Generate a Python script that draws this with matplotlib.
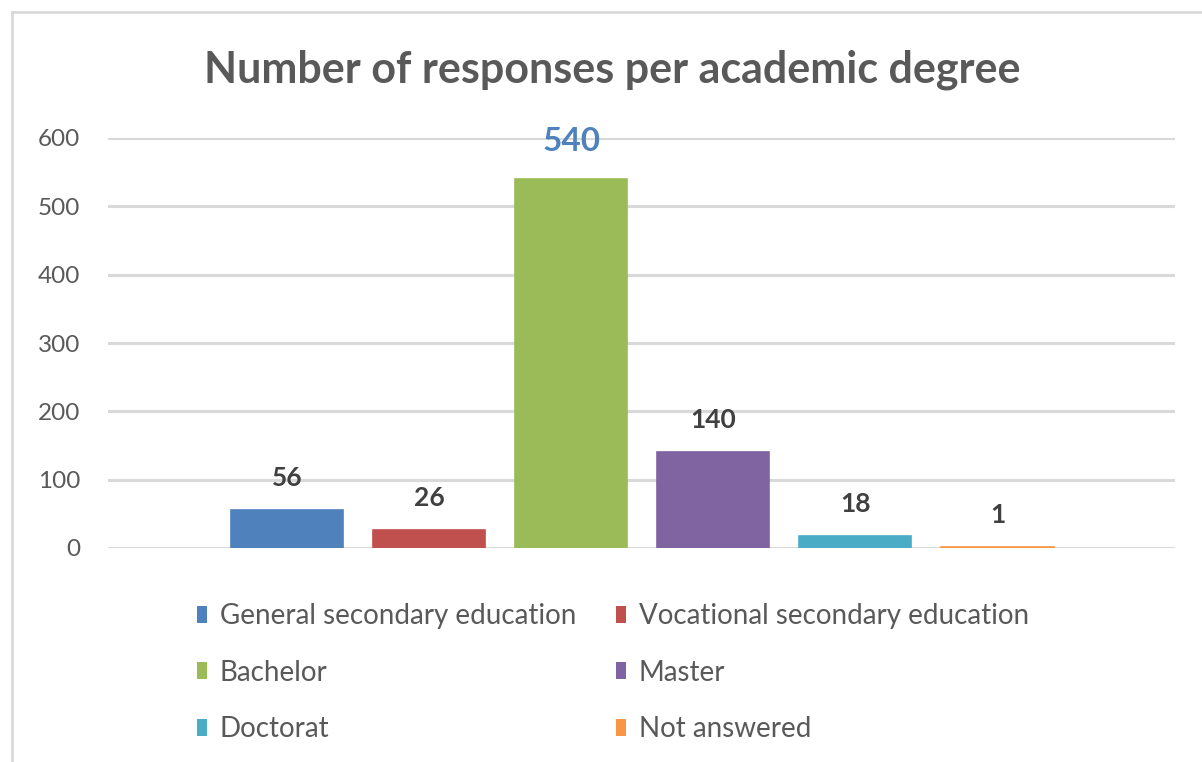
import matplotlib.pyplot as plt
from matplotlib.patches import Patch
from matplotlib.lines import Line2D

# data
degrees = ['General secondary education', 'Vocational secondary education',
           'Bachelor', 'Master', 'Doctorat', 'Not answered']
responses = [56, 26, 540, 140, 18, 1]
colors = ['#4F81BD', '#C0504D', '#9BBB59', '#8064A2', '#4BACC6', '#F79646']
yticks = [0, 100, 200, 300, 400, 500, 600]

plt.rcParams['font.family'] = ['Lato', 'DejaVu Sans']

fig = plt.figure(figsize=(12.02, 7.62), dpi=100)
ax = fig.add_axes([108 / 1202, 1 - 548 / 762, 1067 / 1202, 410 / 762])

x = list(range(len(degrees)))
ax.bar(x, responses, width=0.79, color=colors, edgecolor=colors, linewidth=1.2, zorder=3)

ax.set_ylim(0, 600)
ax.set_xlim(-1.26, 6.25)
ax.set_yticks(yticks)
ax.set_xticks([])
ax.yaxis.grid(True, color='#D9D9D9', linewidth=2.2, zorder=0)
for s in ax.spines.values():
    s.set_visible(False)
ax.tick_params(axis='y', length=0, pad=20, labelsize=17.5, labelcolor='#595959')

# data labels
for xi, v in zip(x, responses):
    if v == max(responses):
        ax.annotate(str(v), (xi, v), xytext=(0, 27), textcoords='offset points',
                    ha='center', va='center', fontsize=24, fontweight='bold',
                    color='#4F81BD')
    else:
        ax.annotate(str(v), (xi, v), xytext=(0, 23), textcoords='offset points',
                    ha='center', va='center', fontsize=19, fontweight='bold',
                    color='#404040')

fig.text(0.509, 1 - 70 / 762, 'Number of responses per academic degree',
         ha='center', va='center', fontsize=31, fontweight='bold', color='#595959')

# legend filled row by row (matplotlib fills by column)
order = [0, 2, 4, 1, 3, 5]
handles = [Patch(facecolor=colors[i]) for i in order]
labels = [degrees[i] for i in order]
fig.legend(handles, labels, ncol=2, loc='upper left',
           bbox_to_anchor=(172 / 1202, 1 - 578 / 762), frameon=False,
           fontsize=20, labelcolor='#595959', handlelength=0.36, handleheight=0.55,
           handletextpad=0.45, columnspacing=1.45, labelspacing=1.1)

# chart border (left and top visible)
fig.add_artist(Line2D([12 / 1202, 12 / 1202], [0, 1 - 12 / 762], color='#D9D9D9', linewidth=2,
                      transform=fig.transFigure))
fig.add_artist(Line2D([12 / 1202, 1], [1 - 12 / 762, 1 - 12 / 762], color='#D9D9D9', linewidth=2,
                      transform=fig.transFigure))

fig.savefig('out.png', dpi=100)
